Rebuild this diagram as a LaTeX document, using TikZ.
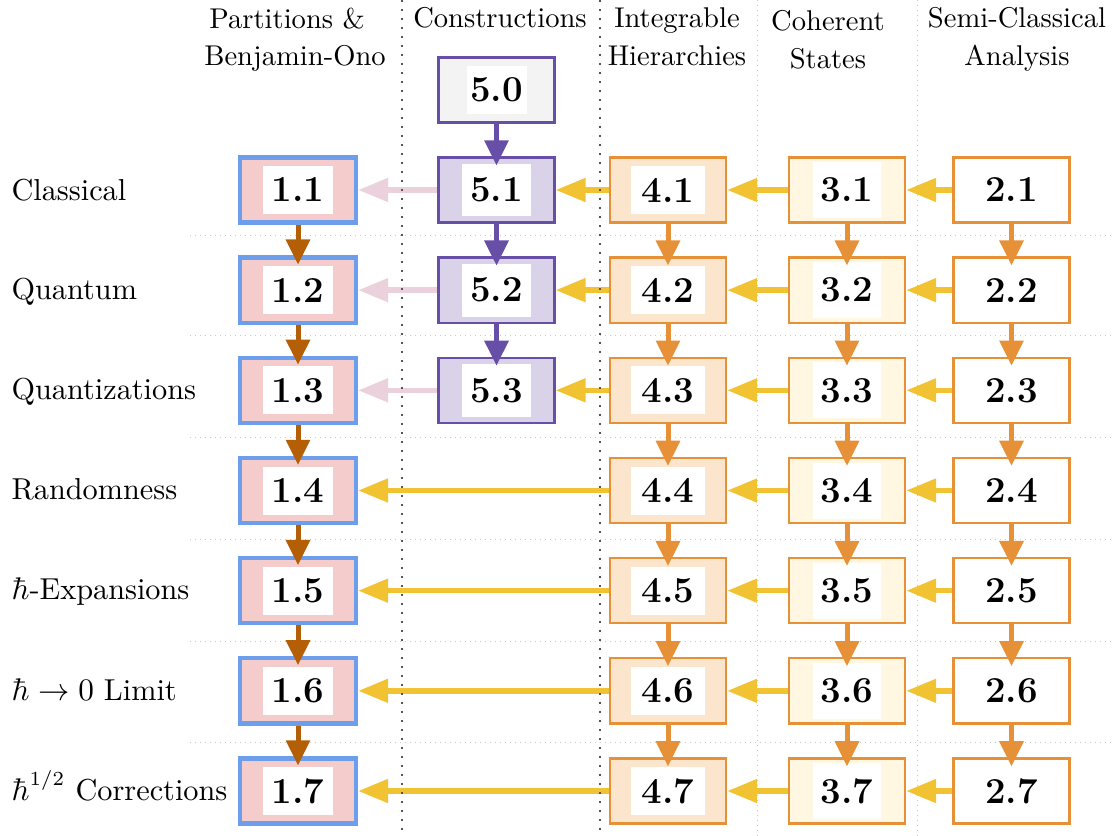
\documentclass[tikz,border=0pt]{standalone}
\usetikzlibrary{arrows.meta}
\definecolor{pinkf}{HTML}{F4CCCC}
\definecolor{blueb}{HTML}{6D9EEB}
\definecolor{lavf}{HTML}{D9D2E9}
\definecolor{purp}{HTML}{674EA7}
\definecolor{grayf}{HTML}{F3F3F3}
\definecolor{orf}{HTML}{FCE5CD}
\definecolor{yelf}{HTML}{FFF7E2}
\definecolor{orb}{HTML}{E69138}
\definecolor{yell}{HTML}{F1C232}
\definecolor{pinka}{HTML}{EAD1DC}
\definecolor{brownc}{HTML}{B45F06}
\definecolor{sepdark}{HTML}{555555}
\definecolor{seplight}{HTML}{C8C8C8}
\begin{document}
\begin{tikzpicture}[x=0.35pt,y=-0.35pt,
  boxbase/.style={draw, inner sep=0pt, minimum width=40.6pt, minimum height=22.8pt},
  boxA/.style={boxbase, fill=pinkf, draw=blueb, line width=1.5pt},
  boxE/.style={boxbase, fill=lavf, draw=purp, line width=0.8pt},
  boxEz/.style={boxbase, fill=grayf, draw=purp, line width=0.8pt},
  boxD/.style={boxbase, fill=orf, draw=orb, line width=0.85pt},
  boxC/.style={boxbase, fill=yelf, draw=orb, line width=0.85pt},
  boxB/.style={boxbase, fill=white, draw=orb, line width=0.85pt},
  numtxt/.style={fill=white, inner sep=0pt, font=\fontsize{12.8}{15}\selectfont\bfseries},
  innerA/.style={numtxt, minimum width=24.2pt, minimum height=16.8pt},
  innerE/.style={numtxt, minimum width=24.2pt, minimum height=18.5pt},
  innerEz/.style={numtxt, minimum width=21pt, minimum height=16.8pt},
  innerD/.style={numtxt, minimum width=26pt, minimum height=16.8pt},
  innerC/.style={numtxt, minimum width=23.8pt, minimum height=19.6pt},
  innerB/.style={numtxt, minimum width=24pt, minimum height=16.8pt},
  varr/.style={line width=1.75pt, -{Triangle[length=8.8pt,width=8.2pt]}, shorten >=-3.2pt},
  harr/.style={line width=1.9pt, -{Triangle[length=10.5pt,width=8pt]}},
  head/.style={anchor=north, inner sep=0pt, align=center, font=\fontsize{10}{13.2}\selectfont},
  rowlab/.style={anchor=base west, inner sep=0pt, font=\fontsize{10.6}{12.7}\selectfont},
  darksep/.style={draw=sepdark, line width=0.85pt, dash pattern=on 0.85pt off 2.3pt},
  lightsep/.style={draw=seplight, line width=0.35pt, dash pattern=on 0.45pt off 1.3pt}
]
\useasboundingbox (0,0) rectangle (1114,836);

% light separators
\draw[lightsep] (757,0) -- (757,836);
\draw[lightsep] (917,0) -- (917,836);
\foreach \yy in {236,336,437,539,641,742}{
  \draw[lightsep] (190,\yy) -- (1114,\yy);
}

% headers
\node[head] (h1) at (295,7) {Partitions \&\hspace*{5.5pt}\\Benjamin-Ono};
\node[head] (h5) at (500,7) {Constructions};
\node[head] (h4) at (677,7) {Integrable\\Hierarchies};
\node[head] (h3) at (828,10) {Coherent\\States};
\node[head] (h2) at (1017,7) {Semi-Classical\\Analysis};

% row labels
\node[rowlab] (l1) at (11,201) {Classical};
\node[rowlab] (l2) at (11,300) {Quantum};
\node[rowlab] (l3) at (11,400) {Quantizations};
\node[rowlab] (l4) at (11,500) {Randomness};
\node[rowlab] (l5) at (11,599) {$\hbar$-Expansions};
\node[rowlab] (l6) at (11,700) {$\hbar\to0$ Limit};
\node[rowlab] (l7) at (11,800) {$\hbar^{1/2}$ Corrections};

% boxes
\foreach \i in {1,...,7}{
  \pgfmathsetmacro{\yy}{190+100.17*(\i-1)}
  \node[boxA] (b1\i) at (298,\yy) {};
  \node[innerA] (t1\i) at (b1\i) {1.\i};
  \node[boxD] (b4\i) at (668,\yy) {};
  \node[innerD] (t4\i) at (b4\i) {4.\i};
  \node[boxC] (b3\i) at (847,\yy) {};
  \node[innerC] (t3\i) at (b3\i) {3.\i};
  \node[boxB] (b2\i) at (1011.5,\yy) {};
  \node[innerB] (t2\i) at (b2\i) {2.\i};
}
\node[boxEz] (b50) at (496.5,90) {};
\node[innerEz] (t50) at (b50) {5.0};
\foreach \i in {1,2,3}{
  \pgfmathsetmacro{\yy}{190+100.17*(\i-1)}
  \node[boxE] (b5\i) at (496.5,\yy) {};
  \node[innerE] (t5\i) at (b5\i) {5.\i};
}

% vertical arrows
\foreach \i [evaluate=\i as \j using int(\i+1)] in {1,...,6}{
  \draw[varr, brownc] (b1\i.south) -- (b1\j.north);
  \draw[varr, orb] (b4\i.south) -- (b4\j.north);
  \draw[varr, orb] (b3\i.south) -- (b3\j.north);
  \draw[varr, orb] (b2\i.south) -- (b2\j.north);
}
\foreach \i [evaluate=\i as \j using int(\i+1)] in {0,1,2}{
  \draw[varr, purp] (b5\i.south) -- (b5\j.north);
}

% horizontal arrows
\foreach \i in {1,...,7}{
  \draw[harr, yell] (b2\i.west) -- (b3\i.east);
  \draw[harr, yell] (b3\i.west) -- (b4\i.east);
}
\foreach \i in {1,2,3}{
  \draw[harr, yell] (b4\i.west) -- (b5\i.east);
  \draw[harr, pinka] (b5\i.west) -- (b1\i.east);
}
\foreach \i in {4,...,7}{
  \draw[harr, yell] (b4\i.west) -- (b1\i.east);
}

% dark separators
\draw[darksep] (402,0) -- (402,836);
\draw[darksep] (600,0) -- (600,836);
\end{tikzpicture}
\end{document}
